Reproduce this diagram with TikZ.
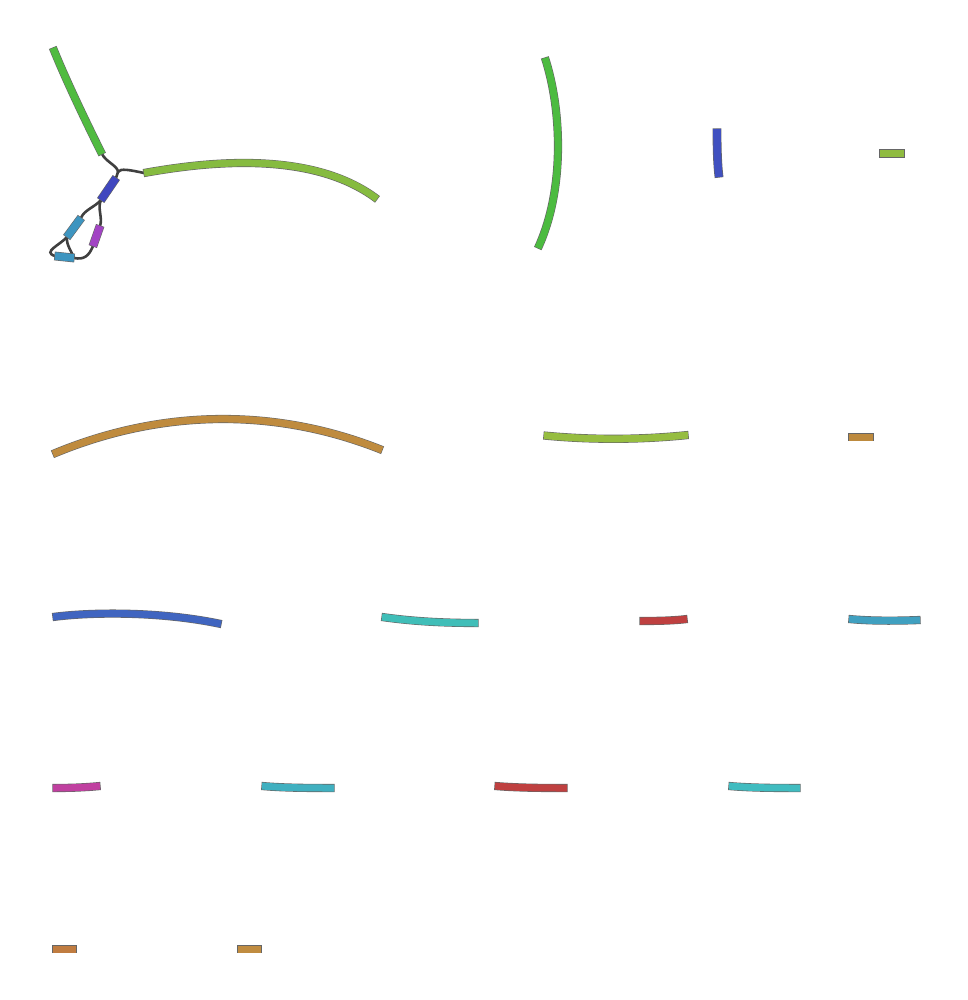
\documentclass[tikz,border=0pt]{standalone}
\usetikzlibrary{calc}
\definecolor{gA}{HTML}{50BB40}
\definecolor{gB}{HTML}{86BB40}
\definecolor{gC}{HTML}{4CBB40}
\definecolor{gD}{HTML}{8FBB40}
\definecolor{gE}{HTML}{96BD40}
\definecolor{bA}{HTML}{4047BF}
\definecolor{bB}{HTML}{4050C0}
\definecolor{bC}{HTML}{4065C0}
\definecolor{lb}{HTML}{3E95C0}
\definecolor{pu}{HTML}{A244C4}
\definecolor{tA}{HTML}{BF8B3E}
\definecolor{tB}{HTML}{BD8A3E}
\definecolor{tC}{HTML}{C07C40}
\definecolor{tD}{HTML}{C08C40}
\definecolor{cA}{HTML}{40BEB8}
\definecolor{cB}{HTML}{40A0C0}
\definecolor{cC}{HTML}{40B0C0}
\definecolor{cD}{HTML}{40BCC0}
\definecolor{rA}{HTML}{BF4040}
\definecolor{mA}{HTML}{C040A0}
\definecolor{edge}{HTML}{404040}
\tikzset{
  ctg/.style={line width=7.0pt, line cap=butt, draw=#1,
    preaction={draw=black!60, line width=8.2pt, line cap=butt,
      shorten <=-0.6pt, shorten >=-0.6pt}},
  ctgw/.style={line width=7.6pt, line cap=butt, draw=#1,
    preaction={draw=black!60, line width=8.8pt, line cap=butt,
      shorten <=-0.6pt, shorten >=-0.6pt}},
  link/.style={draw=edge, line width=2.6pt, line cap=round}
}
\begin{document}
\begin{tikzpicture}[x=1pt,y=-1pt]
\useasboundingbox (0,0) rectangle (967,1000);
% ---- cluster coordinates
\coordinate (a1) at (53,48);   \coordinate (a2) at (102,154);
\coordinate (b1) at (144,173); \coordinate (b2) at (377,199);
\coordinate (j1) at (118,172);
\coordinate (u1) at (116,178); \coordinate (u2) at (101,200);
\coordinate (l1) at (81,218);  \coordinate (l2) at (67,237);
\coordinate (p1) at (100,226); \coordinate (p2) at (93,246);
\coordinate (m1) at (55,256);  \coordinate (m2) at (74,258);
% connectors
\draw[link] (a2) .. controls (106,162) and (118,166) .. (j1);
\draw[link] (j1) .. controls (120,168) and (130,170) .. (b1);
\draw[link] (j1) -- (u1);
\draw[link] (u2) .. controls (95,207) and (84,210) .. (l1);
\draw[link] (u2) .. controls (97,208) and (103,218) .. (p1);
\draw[link] (l2) .. controls (60,245) and (42,252) .. (m1);
\draw[link] (l2) .. controls (66,245) and (72,252) .. (m2);
\draw[link] (p2) .. controls (89,256) and (84,260) .. (m2);
% contigs
\draw[ctg=gA] (a1) .. controls (65,78) and (85,120) .. (a2);
\draw[ctg=gB] (b1) .. controls (200,163) and (310,148) .. (b2);
\draw[ctgw=bA] (u1) -- (u2);
\draw[ctgw=lb] (l1) -- (l2);
\draw[ctgw=pu] (p1) -- (p2);
\draw[ctgw=lb] (m1) -- (m2);
% ---- top right
\coordinate (c1) at (545,58);  \coordinate (c2) at (538,248);
\draw[ctg=gC] (c1) .. controls (562,110) and (565,190) .. (c2);
\coordinate (d1) at (717,129); \coordinate (d2) at (719,177);
\draw[ctgw=bB] (d1) .. controls (717,150) and (717.5,165) .. (d2);
\coordinate (e1) at (880,153.5); \coordinate (e2) at (904,153.5);
\draw[ctg=gD] (e1) -- (e2);
% ---- row 2
\coordinate (f1) at (53,454); \coordinate (f2) at (382,450);
\draw[ctg=tA] (f1) .. controls (160,409) and (275,407) .. (f2);
\coordinate (g1) at (544,435.5); \coordinate (g2) at (688,435);
\draw[ctg=gE] (g1) .. controls (590,440) and (640,440) .. (g2);
\coordinate (h1) at (849,437); \coordinate (h2) at (873,437);
\draw[ctg=tB] (h1) -- (h2);
% ---- row 3
\coordinate (i1) at (53,617); \coordinate (i2) at (221,624);
\draw[ctg=bC] (i1) .. controls (90,612) and (160,611) .. (i2);
\coordinate (k1) at (382,617); \coordinate (k2) at (478,623);
\draw[ctg=cA] (k1) .. controls (410,621) and (440,623) .. (k2);
\coordinate (n1) at (640,621); \coordinate (n2) at (687,619);
\draw[ctg=rA] (n1) .. controls (660,621) and (675,620.5) .. (n2);
\coordinate (o1) at (849,619); \coordinate (o2) at (920,620);
\draw[ctg=cB] (o1) .. controls (870,621) and (895,621) .. (o2);
% ---- row 4
\coordinate (q1) at (53,788); \coordinate (q2) at (100,786);
\draw[ctg=mA] (q1) .. controls (70,788) and (85,787.5) .. (q2);
\coordinate (r1) at (262,786); \coordinate (r2) at (334,788);
\draw[ctg=cC] (r1) .. controls (285,788) and (310,788) .. (r2);
\coordinate (s1) at (495,786); \coordinate (s2) at (567,788);
\draw[ctg=rA] (s1) .. controls (520,788) and (545,788) .. (s2);
\coordinate (t1) at (729,786); \coordinate (t2) at (800,788);
\draw[ctg=cD] (t1) .. controls (752,788) and (777,788) .. (t2);
% ---- row 5
\coordinate (v1) at (53,949); \coordinate (v2) at (76,949);
\draw[ctg=tC] (v1) -- (v2);
\coordinate (w1) at (238,949); \coordinate (w2) at (261,949);
\draw[ctg=tD] (w1) -- (w2);
\end{tikzpicture}
\end{document}
